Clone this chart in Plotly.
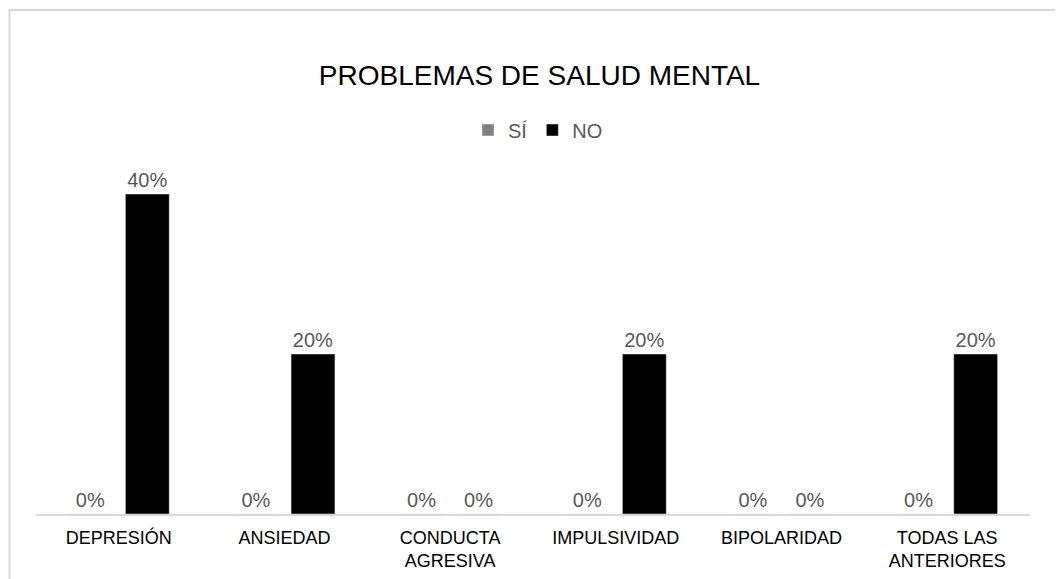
import plotly.graph_objects as go

categorias = ["DEPRESIÓN", "ANSIEDAD", "CONDUCTA<br>AGRESIVA", "IMPULSIVIDAD",
              "BIPOLARIDAD", "TODAS LAS<br>ANTERIORES"]
si = [0, 0, 0, 0, 0, 0]
no = [0.40, 0.20, 0, 0.20, 0, 0.20]

# the page puts the figure 8px in from the top-left corner
OFF = 8
W, H = 1063, 579
# plot area in page pixels: x 36..1030, y 154..514
L, R, T, B = 36 - OFF, W - 1030 + OFF, 154 - OFF, H - 514 + OFF
pw, ph = W - L - R, H - T - B

def px_x(x):
    return (x - OFF - L) / pw

def px_y(y):
    return (H - B - (y - OFF)) / ph

fig = go.Figure()
fig.add_trace(go.Bar(
    x=categorias, y=si, name="SÍ",
    marker_color="#808080",
    text=[f"{v:.0%}" for v in si], textposition="outside",
    textfont=dict(color="#595959", size=20),
    cliponaxis=False,
))
fig.add_trace(go.Bar(
    x=categorias, y=no, name="NO",
    marker_color="#000000",
    text=[f"{v:.0%}" for v in no], textposition="outside",
    textfont=dict(color="#595959", size=20),
    cliponaxis=False,
))

fig.update_layout(
    width=W, height=H,
    margin=dict(l=L, r=R, t=T, b=B),
    paper_bgcolor="white", plot_bgcolor="white",
    font=dict(family="Liberation Sans, Arial, sans-serif"),
    barmode="group", bargap=0.312, bargroupgap=0.23,
    title=dict(text="PROBLEMAS DE SALUD MENTAL", x=0.5, xanchor="center",
               y=1 - (75 - OFF) / H, yanchor="middle", yref="container",
               font=dict(size=28, color="#000000")),
    legend=dict(orientation="h", x=px_x(538), xanchor="center",
                y=px_y(130), yanchor="middle",
                font=dict(size=20, color="#595959"),
                itemwidth=30, traceorder="normal"),
    showlegend=True,
)
fig.update_xaxes(
    showline=True, linecolor="#d9d9d9", linewidth=2,
    showgrid=False, ticks="", ticklabelstandoff=6,
    tickfont=dict(size=18, color="#000000"),
)
fig.update_yaxes(range=[0, 0.45], visible=False)

# chart border (light gray frame, running off the right and bottom edges)
fig.add_shape(type="rect", xref="paper", yref="paper",
              x0=px_x(9.5), x1=px_x(1085), y0=px_y(600), y1=px_y(10),
              line=dict(color="#d9d9d9", width=2), layer="below")

fig.write_html("out.html")
